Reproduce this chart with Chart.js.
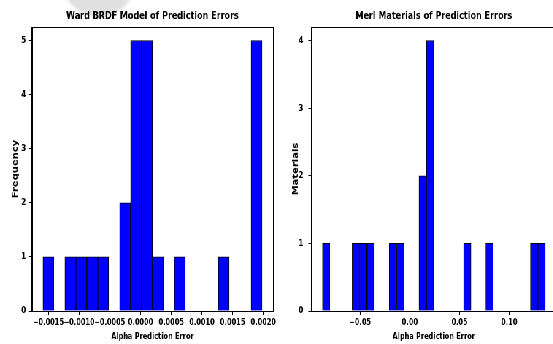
<!DOCTYPE html>
<html>
<head>
<meta charset="utf-8">
<script src="https://cdn.jsdelivr.net/npm/chart.js@4.4.1/dist/chart.umd.min.js"></script>
<style>
    html, body { margin: 0; padding: 0; background: #fff; }
    body { width: 553px; height: 344px; overflow: hidden; position: relative; }
    #blob {
        position: absolute; left: 62px; top: -58px; width: 74px; height: 75px;
        border-radius: 50%; background: #e0e0e0; filter: blur(1.5px);
    }
    #fig {
        position: absolute; left: 0; top: 0; width: 770px; height: 344px;
        transform: scaleX(0.73); transform-origin: 0 0;
    }
    #fig canvas { position: absolute; top: 0; }
</style>
</head>
<body>
<div id="blob"></div>
<div id="fig">
    <canvas id="wardChart" width="390" height="344" style="left:0"></canvas>
    <canvas id="merlChart" width="380" height="344" style="left:390px"></canvas>
</div>
<script>
// histogram counts
const wardCounts = [1, 0, 1, 1, 1, 1, 0, 2, 5, 5, 1, 0, 1, 0, 0, 0, 1, 0, 0, 5];
const wardRange = [-0.00159, 0.00198];
const wardXTicks = [-0.0015, -0.0010, -0.0005, 0.0000, 0.0005, 0.0010, 0.0015, 0.0020];
const wardYTicks = [0, 1, 2, 3, 4, 5];

const merlCounts = [1, 0, 0, 0, 1, 1, 1, 0, 0, 1, 1, 0, 0, 2, 4, 0, 0, 0, 0, 1, 0, 0, 1, 0, 0, 0, 0, 0, 1, 1];
const merlRange = [-0.0879, 0.1362];
const merlXTicks = [-0.05, 0.00, 0.05, 0.10];
const merlYTicks = [0, 1, 2, 3, 4];

Chart.defaults.font.family = "'DejaVu Sans', sans-serif";
Chart.defaults.font.weight = "bold";
Chart.defaults.color = "#000";

const frame = {
    id: "frame",
    afterDraw(chart) {
        const { ctx, chartArea: a } = chart;
        ctx.save();
        ctx.strokeStyle = "#000";
        ctx.lineWidth = 1;
        ctx.strokeRect(Math.round(a.left) + 0.5, Math.round(a.top) + 0.5,
            Math.round(a.right - a.left), Math.round(a.bottom - a.top));
        ctx.restore();
    }
};

function binPoints(counts, range) {
    const w = (range[1] - range[0]) / counts.length;
    return counts.map((c, i) => ({ x: range[0] + (i + 0.5) * w, y: c === 0 ? null : c }));
}

function fmt(v, digits) {
    return v.toFixed(digits).replace("-", "\u2212");
}

function makeHist(id, cfg) {
    const span = cfg.range[1] - cfg.range[0];
    const ctx = document.getElementById(id).getContext("2d");
    return new Chart(ctx, {
        type: "bar",
        data: {
            datasets: [{
                data: binPoints(cfg.counts, cfg.range),
                backgroundColor: "#0000ff",
                borderColor: "#000",
                borderWidth: 1,
                barPercentage: 1,
                categoryPercentage: 1
            }]
        },
        options: {
            responsive: false,
            animation: false,
            events: [],
            layout: { padding: { left: 0, right: cfg.padRight, top: 0, bottom: 0 } },
            plugins: {
                legend: { display: false },
                tooltip: { enabled: false },
                title: {
                    display: true,
                    text: cfg.title,
                    fullSize: false,
                    font: { size: 11, weight: "bold" },
                    padding: { top: 10, bottom: 3.8 }
                }
            },
            scales: {
                x: {
                    type: "linear",
                    offset: false,
                    min: cfg.range[0] - span * 0.05,
                    max: cfg.range[1] + span * 0.05,
                    afterBuildTicks: s => { s.ticks = cfg.xTicks.map(v => ({ value: v })); },
                    afterFit: s => { s.height = 33; },
                    grid: { display: true, drawOnChartArea: false, offset: false, tickLength: 4, color: "#000" },
                    border: { color: "#000" },
                    ticks: {
                        autoSkip: false, maxRotation: 0, padding: 2,
                        font: { size: 9, weight: "bold" },
                        callback: v => fmt(v, cfg.digits)
                    },
                    title: {
                        display: true, text: "Alpha Prediction Error",
                        font: { size: 9, weight: "bold" },
                        padding: { top: 0, bottom: 1.6 }
                    }
                },
                y: {
                    min: 0,
                    max: cfg.yMax,
                    afterBuildTicks: s => { s.ticks = cfg.yTicks.map(v => ({ value: v })); },
                    afterFit: s => { s.width = cfg.yWidth; },
                    grid: { display: true, drawOnChartArea: false, tickLength: 4, color: "#000" },
                    border: { color: "#000" },
                    ticks: {
                        padding: cfg.yPad,
                        font: { size: 9.5, weight: "bold" },
                        callback: v => String(v)
                    },
                    title: {
                        display: true, text: cfg.yLabel,
                        font: { size: 10, weight: "bold" },
                        padding: { top: cfg.yTitlePad, bottom: 0 }
                    }
                }
            }
        },
        plugins: [frame]
    });
}

makeHist("wardChart", {
    title: "Ward BRDF Model of Prediction Errors",
    yLabel: "Frequency",
    counts: wardCounts, range: wardRange,
    xTicks: wardXTicks, yTicks: wardYTicks,
    digits: 4, yMax: 5.25,
    yWidth: 43.8, padRight: 16, yPad: 4.2, yTitlePad: 15.6
});

makeHist("merlChart", {
    title: "Merl Materials of Prediction Errors",
    yLabel: "Materials",
    counts: merlCounts, range: merlRange,
    xTicks: merlXTicks, yTicks: merlYTicks,
    digits: 2, yMax: 4.2,
    yWidth: 36.4, padRight: 7.8, yPad: 6.9, yTitlePad: 9.5
});
</script>
</body>
</html>
